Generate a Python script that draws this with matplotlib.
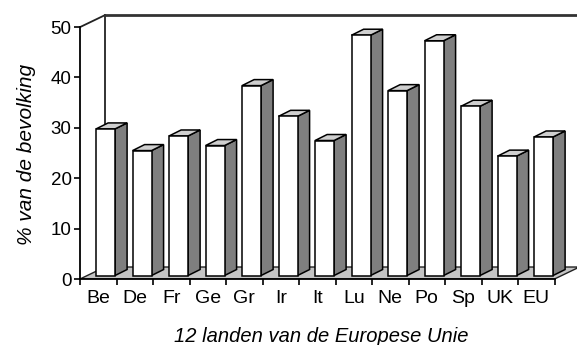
import numpy as np
import matplotlib.pyplot as plt
from matplotlib.patches import Polygon

plt.rcParams['font.family'] = ['Liberation Sans', 'DejaVu Sans']

landen = ['Be', 'De', 'Fr', 'Ge', 'Gr', 'Ir', 'It', 'Lu', 'Ne', 'Po', 'Sp', 'UK', 'EU']
percentage = [29.1, 24.8, 27.7, 25.8, 37.7, 31.6, 26.8, 47.7, 36.7, 46.6, 33.6, 23.7, 27.5]
y_ticks = [0, 10, 20, 30, 40, 50]

# depth of the "3d" box and of each column, in data units
wall_dx, wall_dy = 0.685, 2.38
bar_dx, bar_dy = 0.33, 1.19
bar_w = 0.52
off_x, off_y = 0.2, 0.69

fig = plt.figure(figsize=(5.77, 3.45), dpi=100)
ax = fig.add_axes([80 / 577, 66 / 345, 497 / 577, 266 / 345])
ax.set_xlim(-0.5, 13.116)
ax.set_ylim(0, 52.8)

n = len(landen)
x0, x1 = -0.5, n - 0.5

# floor
floor = Polygon([(x0, 0), (x1, 0), (x1 + wall_dx, wall_dy), (x0 + wall_dx, wall_dy)],
                closed=True, facecolor='#c4c4c4', edgecolor='#222222', lw=1.0, zorder=1)
ax.add_patch(floor)

# walls
ax.plot([x0, x0 + wall_dx], [50, 50 + wall_dy], color='#222222', lw=1.3, zorder=2)
ax.plot([x0 + wall_dx, x0 + wall_dx], [wall_dy, 50 + wall_dy], color='#222222', lw=1.3, zorder=2)
ax.plot([x0 + wall_dx, x1 + wall_dx], [50 + wall_dy, 50 + wall_dy], color='#333333', lw=2.0, zorder=2)
ax.plot([x1 + wall_dx, x1 + wall_dx], [wall_dy, 50 + wall_dy], color='#aaaaaa', lw=1.0, zorder=2)

# columns: front face with bar(), side and top as polygons
xs = np.arange(n) + off_x
ax.bar(xs, percentage, width=bar_w, bottom=off_y, color='white',
       edgecolor='black', linewidth=1.1, zorder=4)
for x, v in zip(xs, percentage):
    l, r = x - bar_w / 2, x + bar_w / 2
    top = off_y + v
    side = Polygon([(r, off_y), (r + bar_dx, off_y + bar_dy), (r + bar_dx, top + bar_dy), (r, top)],
                   closed=True, facecolor='#7f7f7f', edgecolor='black', lw=1.1, zorder=3)
    cap = Polygon([(l, top), (r, top), (r + bar_dx, top + bar_dy), (l + bar_dx, top + bar_dy)],
                  closed=True, facecolor='#cfcfcf', edgecolor='black', lw=1.1, zorder=3)
    ax.add_patch(side)
    ax.add_patch(cap)

for s in ['top', 'right']:
    ax.spines[s].set_visible(False)
ax.spines['left'].set_bounds(0, 50)
ax.spines['bottom'].set_bounds(x0, x1)
ax.spines['left'].set_linewidth(1.3)
ax.spines['bottom'].set_linewidth(1.3)

ax.set_yticks(y_ticks)
ax.tick_params(axis='y', labelsize=13.5, length=4, width=1.2, pad=2)
ax.set_xticks(np.arange(x0, x1 + 0.1, 1.0))
ax.set_xticklabels([])
ax.tick_params(axis='x', which='major', length=4, width=1.2)
ax.set_xticks(np.arange(n), minor=True)
ax.set_xticklabels(landen, minor=True)
ax.tick_params(axis='x', which='minor', length=0, labelsize=14, pad=8)

fig.text(27 / 577, 1 - 154 / 345, '% van de bevolking', rotation=90, ha='center',
         va='center', fontsize=15, style='italic')
fig.text(321 / 577, 1 - 336 / 345, '12 landen van de Europese Unie', ha='center',
         va='center', fontsize=14.5, style='italic')

fig.savefig('out.png', dpi=100)
